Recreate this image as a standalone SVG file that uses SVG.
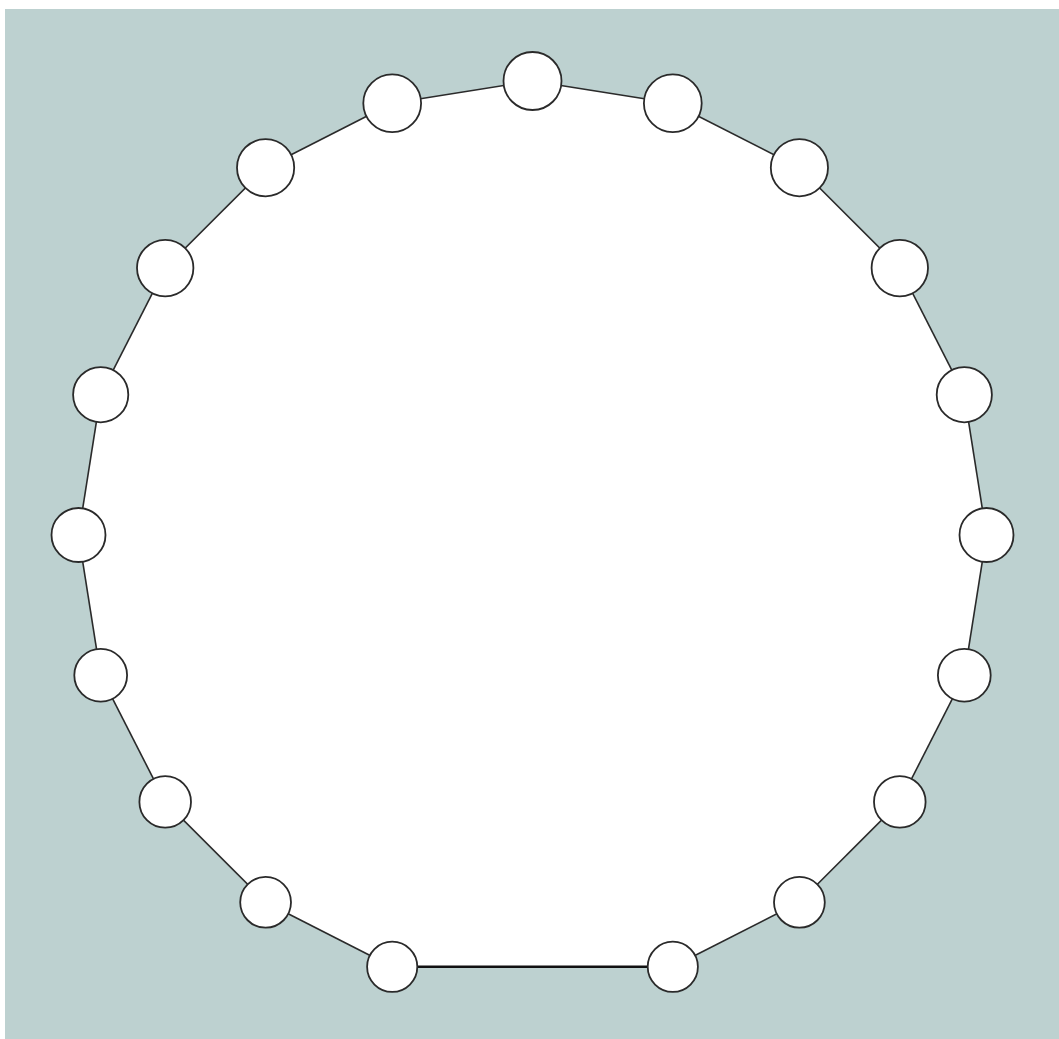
<svg xmlns="http://www.w3.org/2000/svg" width="1059" height="1039" viewBox="0 0 1059 1039">
<style>
.n{fill:#fff;stroke:#2a2a2a;stroke-width:1.8}
.e{stroke:#2a2a2a;stroke-width:1.6;fill:none}
</style>
<rect x="0" y="0" width="1059" height="1039" fill="#fff"/>
<rect x="5" y="9" width="1054" height="1030" fill="#bdd1d0"/>
<polygon fill="#fff" points="532.5,81 672.8,103.2 799.4,167.7 899.8,268.1 964.3,394.7 986.5,535 964.3,675.3 899.8,801.9 799.4,902.3 672.8,966.8 392.2,966.8 265.6,902.3 165.2,801.9 100.7,675.3 78.5,535 100.7,394.7 165.2,268.1 265.6,167.7 392.2,103.2"/>
<g id="connectors" class="e">
<line x1="532.5" y1="81" x2="672.8" y2="103.2"/>
<line x1="672.8" y1="103.2" x2="799.4" y2="167.7"/>
<line x1="799.4" y1="167.7" x2="899.8" y2="268.1"/>
<line x1="899.8" y1="268.1" x2="964.3" y2="394.7"/>
<line x1="964.3" y1="394.7" x2="986.5" y2="535"/>
<line x1="986.5" y1="535" x2="964.3" y2="675.3"/>
<line x1="964.3" y1="675.3" x2="899.8" y2="801.9"/>
<line x1="899.8" y1="801.9" x2="799.4" y2="902.3"/>
<line x1="799.4" y1="902.3" x2="672.8" y2="966.8"/>
<line x1="672.8" y1="966.8" x2="392.2" y2="966.8" stroke-width="2.6" stroke="#111"/>
<line x1="392.2" y1="966.8" x2="265.6" y2="902.3"/>
<line x1="265.6" y1="902.3" x2="165.2" y2="801.9"/>
<line x1="165.2" y1="801.9" x2="100.7" y2="675.3"/>
<line x1="100.7" y1="675.3" x2="78.5" y2="535"/>
<line x1="78.5" y1="535" x2="100.7" y2="394.7"/>
<line x1="100.7" y1="394.7" x2="165.2" y2="268.1"/>
<line x1="165.2" y1="268.1" x2="265.6" y2="167.7"/>
<line x1="265.6" y1="167.7" x2="392.2" y2="103.2"/>
<line x1="392.2" y1="103.2" x2="532.5" y2="81"/>
</g>
<g id="n0"><circle class="n" cx="532.5" cy="81" r="29"/></g>
<g id="n1"><circle class="n" cx="672.8" cy="103.2" r="28.9"/></g>
<g id="n2"><circle class="n" cx="799.4" cy="167.7" r="28.6"/></g>
<g id="n3"><circle class="n" cx="899.8" cy="268.1" r="28.2"/></g>
<g id="n4"><circle class="n" cx="964.3" cy="394.7" r="27.6"/></g>
<g id="n5"><circle class="n" cx="986.5" cy="535" r="27"/></g>
<g id="n6"><circle class="n" cx="964.3" cy="675.3" r="26.4"/></g>
<g id="n7"><circle class="n" cx="899.8" cy="801.9" r="25.8"/></g>
<g id="n8"><circle class="n" cx="799.4" cy="902.3" r="25.4"/></g>
<g id="n9"><circle class="n" cx="672.8" cy="966.8" r="25.1"/></g>
<g id="n11"><circle class="n" cx="392.2" cy="966.8" r="25.1"/></g>
<g id="n12"><circle class="n" cx="265.6" cy="902.3" r="25.4"/></g>
<g id="n13"><circle class="n" cx="165.2" cy="801.9" r="25.8"/></g>
<g id="n14"><circle class="n" cx="100.7" cy="675.3" r="26.4"/></g>
<g id="n15"><circle class="n" cx="78.5" cy="535" r="27"/></g>
<g id="n16"><circle class="n" cx="100.7" cy="394.7" r="27.6"/></g>
<g id="n17"><circle class="n" cx="165.2" cy="268.1" r="28.2"/></g>
<g id="n18"><circle class="n" cx="265.6" cy="167.7" r="28.6"/></g>
<g id="n19"><circle class="n" cx="392.2" cy="103.2" r="28.9"/></g>
</svg>
